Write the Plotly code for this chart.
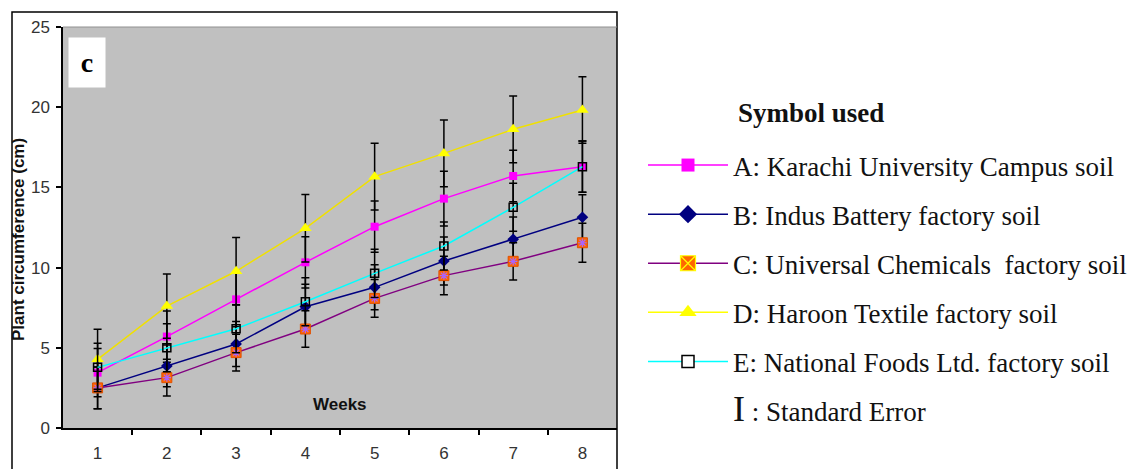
import plotly.graph_objects as go

weeks = ["1", "2", "3", "4", "5", "6", "7", "8"]

a_vals = [3.45, 5.70, 8.02, 10.33, 12.55, 14.30, 15.71, 16.29]
b_vals = [2.50, 3.87, 5.24, 7.56, 8.77, 10.41, 11.76, 13.14]
c_vals = [2.50, 3.14, 4.70, 6.17, 8.08, 9.50, 10.39, 11.55]
d_vals = [4.28, 7.60, 9.77, 12.45, 15.67, 17.12, 18.62, 19.83]
e_vals = [3.78, 5.00, 6.19, 7.87, 9.64, 11.35, 13.76, 16.29]

a_err = [1.5, 1.6, 1.7, 1.6, 1.6, 1.7, 1.6, 1.6]
b_err = [1.3, 1.3, 1.4, 1.4, 1.4, 1.5, 1.4, 1.4]
c_err = [1.3, 1.14, 1.15, 1.14, 1.18, 1.2, 1.16, 1.22]
d_err = [1.87, 2.0, 2.1, 2.1, 2.08, 2.08, 2.08, 2.07]
e_err = [1.5, 1.5, 1.5, 1.5, 1.5, 1.5, 1.5, 1.6]

names = [
    "A: Karachi University Campus soil",
    "B: Indus Battery factory soil",
    "C: Universal Chemicals  factory soil",
    "D: Haroon Textile factory soil",
    "E: National Foods Ltd. factory soil",
]

W, H = 1127, 469
L, R, T, B = 63, 617, 27, 428

def px(x):
    return (x - L) / (R - L)

def py(y):
    return (B - y) / (B - T)

def eb(arr):
    return dict(type="data", array=arr, visible=True, color="black", thickness=1.5, width=4)

fig = go.Figure()

series = [
    (a_vals, a_err, "#FF00FF", dict(symbol="square", size=8, color="#FF00FF")),
    (b_vals, b_err, "#000080", dict(symbol="diamond", size=9, color="#000080")),
    (c_vals, c_err, "#800080", dict(symbol="square", size=10, color="#FF6600",
                                    line=dict(color="#E05000", width=1))),
    (d_vals, d_err, "#F0E000", dict(symbol="triangle-up", size=11, color="#FFFF00")),
    (e_vals, e_err, "#00FFFF", dict(symbol="square-open", size=8, color="black",
                                    line=dict(color="black", width=1.5))),
]

for vals, err, lc, mk in series:
    fig.add_trace(go.Scatter(x=weeks, y=vals, mode="lines+markers",
                             line=dict(color=lc, width=1.5), marker=mk,
                             error_y=eb(err), showlegend=False))
    if vals is c_vals:
        fig.add_trace(go.Scatter(x=weeks, y=vals, mode="markers",
                                 marker=dict(symbol="asterisk-open", size=7,
                                             line=dict(color="#FFFF00", width=1.2)),
                                 showlegend=False, hoverinfo="skip"))

# legend-only entries
leg_markers = [
    ("#FF00FF", dict(symbol="square", size=13, color="#FF00FF")),
    ("#000080", dict(symbol="diamond", size=14, color="#000080")),
    ("#800080", dict(symbol="square-x", size=15, color="#FF6600",
                     line=dict(color="#FFFF00", width=1.2))),
    ("#FFFF00", dict(symbol="triangle-up", size=15, color="#FFFF00")),
    ("#00FFFF", dict(symbol="square", size=12, color="white",
                     line=dict(color="black", width=1.5))),
]
for i, (nm, (lc, mk)) in enumerate(zip(names, leg_markers)):
    fig.add_trace(go.Scatter(x=[None], y=[None], mode="lines+markers", name=nm,
                             line=dict(color=lc, width=1.5), marker=mk,
                             legendgroup=str(i)))
fig.add_trace(go.Scatter(x=[None], y=[None], mode="markers",
                         name="<span style='font-size:36px'>I</span> : Standard Error",
                         marker=dict(size=1, color="rgba(0,0,0,0)"),
                         legendgroup="se"))

fig.update_layout(
    width=W, height=H,
    margin=dict(l=L, r=W - R, t=T, b=H - B, autoexpand=False),
    paper_bgcolor="white",
    plot_bgcolor="#C0C0C0",
    legend=dict(
        x=px(643), y=py(141), xanchor="left", yanchor="top",
        font=dict(family="Liberation Serif", size=27, color="#111"),
        itemwidth=80, tracegroupgap=11, traceorder="grouped",
        bgcolor="rgba(0,0,0,0)",
    ),
    xaxis=dict(
        type="category", tickson="boundaries", showline=True, linecolor="black",
        linewidth=1.5, ticks="outside", ticklen=5, tickcolor="black", tickwidth=1.5,
        showgrid=False, zeroline=False, ticklabelstandoff=9,
        tickfont=dict(family="Liberation Sans", size=17, color="#333"),
    ),
    yaxis=dict(
        range=[0, 25], dtick=5, showline=True, linecolor="black", linewidth=1.5,
        ticks="outside", ticklen=5, tickcolor="black", tickwidth=1.5,
        showgrid=False, zeroline=False, ticklabelstandoff=3,
        tickfont=dict(family="Liberation Sans", size=17, color="#333"),
    ),
    shapes=[
        dict(type="rect", xref="paper", yref="paper", x0=px(12), x1=1.0,
             y0=py(500), y1=py(12), line=dict(color="black", width=1.5)),
        dict(type="line", xref="paper", yref="paper", x0=0, x1=1, y0=1, y1=1,
             line=dict(color="#909090", width=1)),
    ],
    annotations=[
        dict(text="<b>c</b>", xref="paper", yref="paper", x=px(87), y=py(63),
             xanchor="center", yanchor="middle",
             showarrow=False, bgcolor="white", width=36, height=49, borderpad=0,
             font=dict(family="Liberation Serif", size=28, color="black")),
        dict(text="<b>Weeks</b>", xref="paper", yref="paper", x=px(340), y=py(404),
             xanchor="center", yanchor="middle",
             showarrow=False, font=dict(family="Liberation Sans", size=17, color="#111")),
        dict(text="<b>Plant circumference (cm)</b>", xref="paper", yref="paper",
             x=px(18), y=py(240), textangle=-90, showarrow=False,
             xanchor="center", yanchor="middle",
             font=dict(family="Liberation Sans", size=17, color="#111")),
        dict(text="<b>Symbol used</b>", xref="paper", yref="paper", x=px(736), y=py(113),
             xanchor="left", yanchor="middle", showarrow=False,
             font=dict(family="Liberation Serif", size=27, color="#111")),
    ],
)

fig.write_html("out.html", config={"displayModeBar": False},
               post_script="document.body.style.margin='0';document.body.style.padding='0';")
